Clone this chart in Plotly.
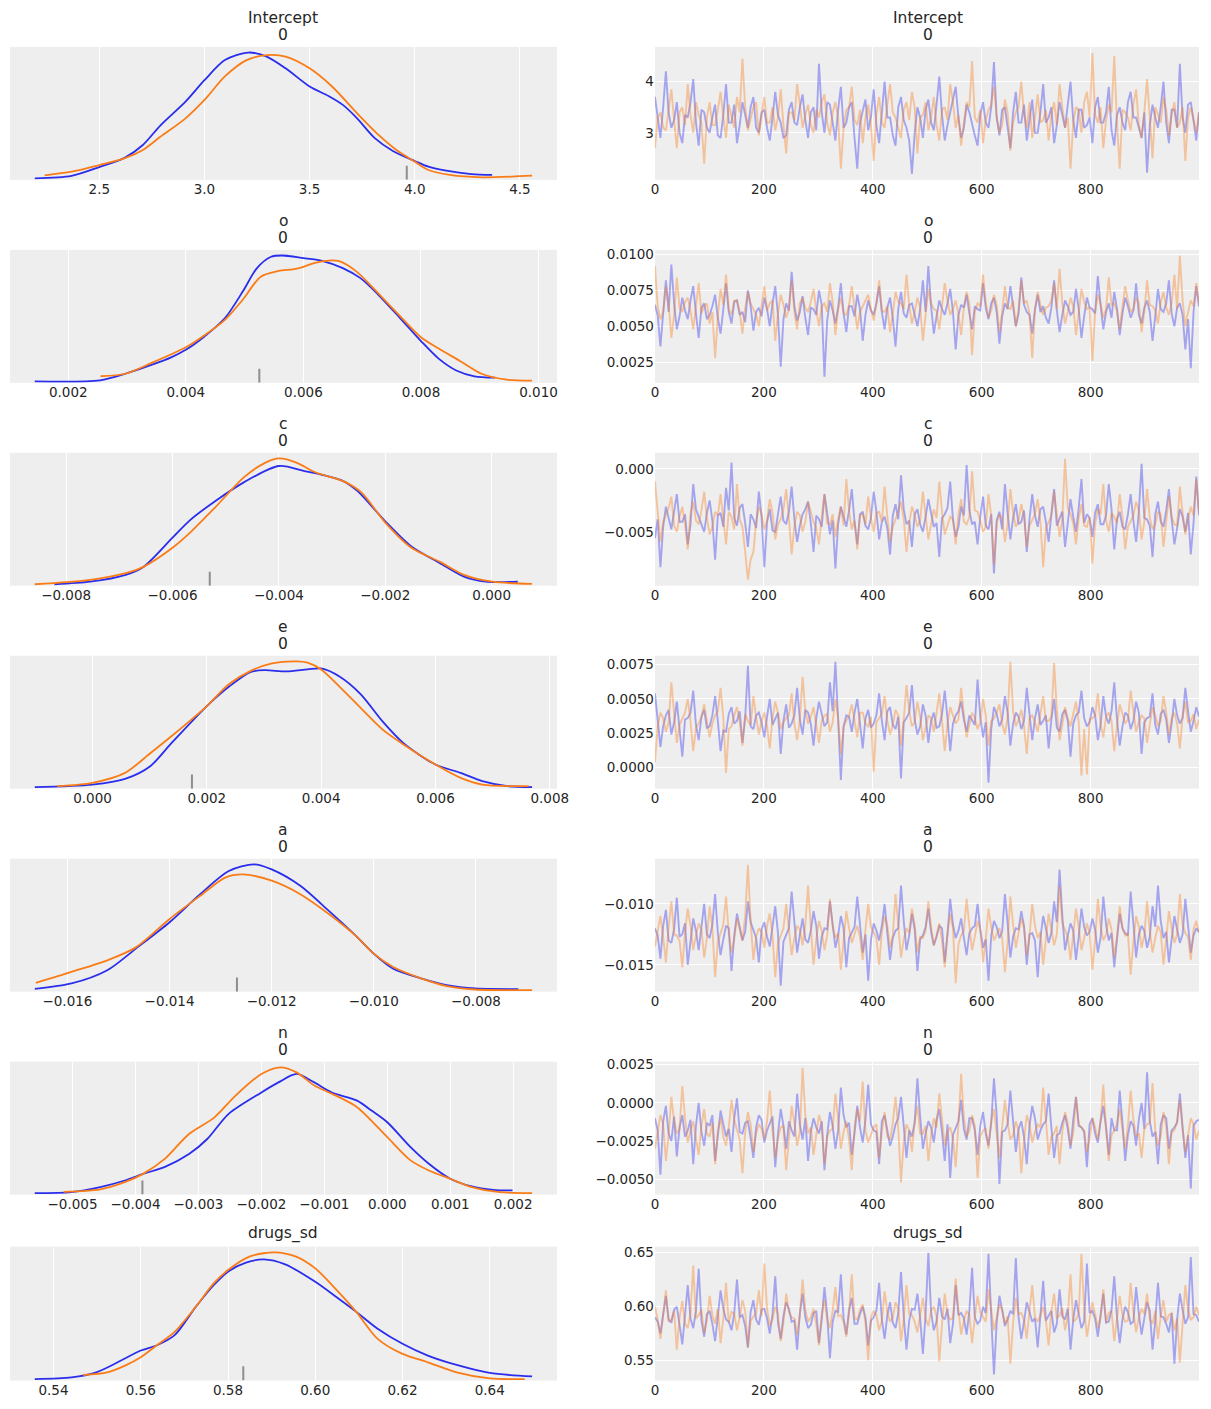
import numpy as np
import plotly.graph_objects as go

W, H = 1211, 1409
BLUE = "#2a2eec"
ORANGE = "#fa7c17"
TEXT = "#262626"
FONT = "DejaVu Sans"

PARAMS = ["Intercept", "o", "c", "e", "a", "n", "drugs_sd"]
SUBTITLES = ["0", "0", "0", "0", "0", "0", ""]

# ---------------- KDE curves (x values, relative density) ----------------
KDE_INTERCEPT_B_X = [2.193, 2.368, 2.5, 2.622, 2.707, 2.79, 2.91, 3.0, 3.097, 3.208, 3.293, 3.386, 3.5, 3.59, 3.658, 3.726, 3.81, 3.896, 4.0, 4.065, 4.15, 4.27, 4.368]
KDE_INTERCEPT_B_Y = [0.0, 0.02, 0.09, 0.165, 0.265, 0.42, 0.61, 0.78, 0.94, 1.0, 0.97, 0.875, 0.73, 0.655, 0.584, 0.477, 0.32, 0.218, 0.138, 0.093, 0.061, 0.034, 0.027]
KDE_INTERCEPT_O_X = [2.24, 2.368, 2.5, 2.622, 2.707, 2.79, 2.91, 3.0, 3.097, 3.2, 3.3, 3.386, 3.5, 3.607, 3.726, 3.828, 3.913, 4.0, 4.065, 4.167, 4.32, 4.558]
KDE_INTERCEPT_O_Y = [0.024, 0.053, 0.106, 0.16, 0.225, 0.33, 0.477, 0.623, 0.81, 0.94, 0.98, 0.968, 0.875, 0.73, 0.517, 0.345, 0.225, 0.133, 0.066, 0.027, 0.008, 0.021]

KDE_O_B_X = [0.00143, 0.00254, 0.00297, 0.00339, 0.00375, 0.004, 0.0043, 0.00467, 0.00497, 0.00521, 0.00545, 0.00564, 0.006, 0.0063, 0.00667, 0.00697, 0.00727, 0.00764, 0.008, 0.0083, 0.0086, 0.00891, 0.00926]
KDE_O_B_Y = [0.0, 0.008, 0.06, 0.126, 0.19, 0.25, 0.35, 0.505, 0.715, 0.9, 0.99, 1.0, 0.98, 0.96, 0.9, 0.82, 0.69, 0.505, 0.32, 0.18, 0.086, 0.04, 0.029]
KDE_O_O_X = [0.00255, 0.00297, 0.00339, 0.004, 0.0043, 0.00467, 0.00497, 0.00527, 0.00558, 0.00582, 0.006, 0.00618, 0.00643, 0.00661, 0.00691, 0.00727, 0.00764, 0.008, 0.0083, 0.00867, 0.00903, 0.00946, 0.00989]
KDE_O_O_Y = [0.04, 0.06, 0.14, 0.27, 0.36, 0.49, 0.65, 0.83, 0.877, 0.89, 0.91, 0.94, 0.96, 0.955, 0.87, 0.70, 0.52, 0.35, 0.26, 0.16, 0.06, 0.013, 0.005]

KDE_C_B_X = [-0.00822, -0.00755, -0.00688, -0.00654, -0.006, -0.00567, -0.0052, -0.00466, -0.004, -0.00352, -0.00319, -0.00279, -0.00252, -0.002, -0.00151, -0.00098, -0.00052, -0.00011, 0.00049]
KDE_C_B_Y = [0.0, 0.02, 0.075, 0.14, 0.37, 0.51, 0.66, 0.81, 0.94, 0.90, 0.87, 0.82, 0.74, 0.5, 0.3, 0.17, 0.06, 0.02, 0.02]
KDE_C_O_X = [-0.00859, -0.00755, -0.00688, -0.00654, -0.006, -0.00567, -0.0052, -0.00466, -0.00426, -0.004, -0.00366, -0.00332, -0.00279, -0.00245, -0.002, -0.00151, -0.00098, -0.00052, 0.00002, 0.00076]
KDE_C_O_Y = [0.0, 0.035, 0.088, 0.14, 0.29, 0.41, 0.61, 0.85, 0.965, 1.0, 0.965, 0.89, 0.82, 0.73, 0.49, 0.29, 0.18, 0.075, 0.02, 0.003]

KDE_E_B_X = [-0.00101, 0.0, 0.00057, 0.00101, 0.00138, 0.002, 0.00239, 0.00276, 0.00301, 0.00339, 0.00376, 0.004, 0.00432, 0.00469, 0.00507, 0.00544, 0.006, 0.00644, 0.00682, 0.00726, 0.00769]
KDE_E_B_Y = [0.0, 0.02, 0.066, 0.167, 0.35, 0.645, 0.80, 0.915, 0.93, 0.92, 0.936, 0.944, 0.88, 0.74, 0.525, 0.35, 0.18, 0.114, 0.048, 0.008, 0.0]
KDE_E_O_X = [-0.00062, 0.0, 0.00057, 0.00101, 0.00138, 0.002, 0.00239, 0.00276, 0.00314, 0.00357, 0.00376, 0.004, 0.00432, 0.00469, 0.00507, 0.00544, 0.006, 0.00644, 0.00682, 0.00763]
KDE_E_O_Y = [0.008, 0.035, 0.114, 0.27, 0.405, 0.645, 0.82, 0.923, 0.984, 1.0, 0.99, 0.936, 0.80, 0.63, 0.46, 0.34, 0.18, 0.074, 0.021, 0.008]

KDE_A_B_X = [-0.01664, -0.01592, -0.01522, -0.01466, -0.014, -0.0134, -0.01284, -0.01235, -0.012, -0.01144, -0.01088, -0.01032, -0.01, -0.00962, -0.00906, -0.00857, -0.00801, -0.00717]
KDE_A_B_Y = [0.01, 0.053, 0.158, 0.33, 0.54, 0.763, 0.947, 1.0, 0.96, 0.83, 0.63, 0.42, 0.29, 0.17, 0.092, 0.04, 0.013, 0.008]
KDE_A_O_X = [-0.01662, -0.01592, -0.01522, -0.01466, -0.014, -0.0134, -0.01291, -0.01256, -0.012, -0.01144, -0.01088, -0.01032, -0.01, -0.00962, -0.00906, -0.00857, -0.00801, -0.0069]
KDE_A_O_Y = [0.058, 0.145, 0.237, 0.34, 0.566, 0.75, 0.895, 0.92, 0.87, 0.763, 0.605, 0.42, 0.29, 0.184, 0.092, 0.032, 0.005, 0.0]

KDE_N_B_X = [-0.0056, -0.00502, -0.00456, -0.00417, -0.00388, -0.00354, -0.00315, -0.00286, -0.00252, -0.002, -0.00173, -0.00144, -0.00116, -0.00088, -0.00048, -0.00025, 0.0, 0.00037, 0.00066, 0.001, 0.00134, 0.00168, 0.00199]
KDE_N_B_Y = [0.0, 0.008, 0.048, 0.1, 0.153, 0.206, 0.31, 0.43, 0.63, 0.80, 0.88, 0.947, 0.88, 0.80, 0.735, 0.656, 0.563, 0.365, 0.233, 0.114, 0.053, 0.026, 0.021]
KDE_N_O_X = [-0.00514, -0.00456, -0.00417, -0.00388, -0.00354, -0.00315, -0.00275, -0.00241, -0.002, -0.0017, -0.00144, -0.00116, -0.00088, -0.00048, 0.0, 0.00037, 0.00066, 0.001, 0.00134, 0.00179, 0.0023]
KDE_N_O_Y = [0.01, 0.03, 0.087, 0.153, 0.27, 0.47, 0.60, 0.775, 0.947, 1.0, 0.96, 0.855, 0.79, 0.683, 0.444, 0.26, 0.18, 0.114, 0.048, 0.008, 0.0]

KDE_DRUGS_B_X = [0.5357, 0.5441, 0.5498, 0.5547, 0.56, 0.5636, 0.5677, 0.5726, 0.5767, 0.58, 0.5841, 0.5882, 0.5931, 0.60, 0.6053, 0.6094, 0.6143, 0.62, 0.6258, 0.6324, 0.64, 0.6497]
KDE_DRUGS_B_Y = [0.0, 0.013, 0.053, 0.132, 0.225, 0.265, 0.344, 0.569, 0.74, 0.847, 0.918, 0.944, 0.905, 0.767, 0.635, 0.53, 0.397, 0.278, 0.185, 0.111, 0.048, 0.021]
KDE_DRUGS_O_X = [0.5468, 0.5523, 0.5564, 0.56, 0.5636, 0.5677, 0.5726, 0.5767, 0.58, 0.5849, 0.5907, 0.5956, 0.60, 0.6053, 0.6094, 0.6143, 0.62, 0.6258, 0.6324, 0.64, 0.648]
KDE_DRUGS_O_Y = [0.032, 0.053, 0.106, 0.172, 0.265, 0.37, 0.569, 0.754, 0.86, 0.966, 1.0, 0.966, 0.873, 0.688, 0.53, 0.317, 0.198, 0.132, 0.053, 0.005, 0.0]

# divergence marks shown under each KDE
DIVERGENCES = [3.962, 0.00525, -0.0053, 0.00174, -0.01268, -0.00389, 0.5835]

# ---------------- Trace values (sampled along the 1000 draws) ----------------
TRACE_INTERCEPT_B = [
    3.7, 3.3, 2.9, 3.5, 4.2, 3.4, 3.1, 3.25, 3.6, 3.0, 2.8, 3.35, 3.3, 3.6, 4.05, 3.2, 2.75, 3.45, 3.4, 3.1,
    3.0, 3.3, 3.55, 2.95, 2.9, 3.35, 3.95, 3.2, 3.2, 3.55, 2.8, 3.15, 3.6, 3.35, 3.1, 3.5, 3.7, 3.1, 3.0, 3.4,
    3.45, 3.1, 2.85, 3.3, 3.8, 3.35, 3.2, 2.9, 2.95, 3.45, 3.6, 3.2, 3.15, 3.5, 3.75, 3.25, 2.9, 3.4, 3.5, 3.05,
    4.35, 3.4, 3.0, 3.6, 3.55, 3.2, 2.85, 3.45, 3.9, 3.1, 3.2, 3.5, 3.6, 2.9, 2.3, 3.2, 3.4, 3.65, 3.05, 3.3,
    3.85, 3.15, 2.8, 3.4, 4.0, 3.3, 3.3, 2.95, 2.75, 3.5, 3.7, 3.25, 3.1, 2.85, 2.2, 3.0, 3.5, 3.3, 2.9, 3.45,
    3.65, 3.2, 3.05, 3.55, 4.1, 3.35, 2.85, 3.15, 3.4, 3.6, 3.9, 3.3, 2.9, 3.1, 3.55, 3.4, 3.15, 2.95, 2.75, 3.35,
    3.6, 3.2, 3.1, 3.5, 4.38, 3.3, 2.95, 3.45, 3.5, 3.05, 2.7, 3.4, 3.8, 3.2, 3.2, 3.55, 2.85, 3.25, 3.65, 3.0,
    3.0, 3.4, 3.95, 3.2, 3.3, 3.5, 2.8, 3.15, 3.6, 3.35, 3.1, 3.55, 4.0, 3.25, 2.9, 3.45, 3.45, 3.1, 3.15, 3.3,
    2.8, 3.5, 3.7, 3.2, 3.2, 3.4, 3.9, 3.05, 2.75, 3.35, 3.5, 3.2, 3.05, 3.6, 3.8, 3.3, 3.3, 3.1, 2.9, 3.4,
    2.22, 3.15, 3.55, 3.3, 3.1, 3.5, 4.0, 3.2, 2.8, 3.45, 3.45, 3.1, 4.35, 3.3, 3.0, 3.55, 3.6, 3.25, 2.85, 3.4]
TRACE_INTERCEPT_O = [
    2.7, 3.3, 3.4, 3.1, 3.05, 3.5, 3.85, 3.25, 2.7, 3.4, 3.5, 3.15, 3.95, 3.35, 3.0, 3.6, 3.35, 3.2, 2.4, 3.3,
    3.6, 3.15, 3.15, 3.45, 3.8, 3.3, 2.9, 3.55, 3.3, 3.1, 3.7, 3.4, 4.45, 3.5, 3.05, 3.25, 3.5, 3.6, 2.95, 3.35,
    3.7, 3.2, 3.2, 3.5, 3.05, 3.3, 3.85, 3.15, 2.6, 3.4, 3.4, 3.25, 3.95, 3.55, 3.1, 3.35, 3.55, 3.15, 3.0, 3.45,
    3.3, 3.6, 3.75, 3.2, 2.95, 3.4, 3.6, 3.3, 2.3, 3.1, 3.45, 3.5, 3.9, 3.25, 3.15, 3.45, 2.8, 3.3, 3.55, 3.15,
    2.45, 3.35, 3.7, 3.2, 3.1, 3.55, 3.95, 3.4, 3.3, 3.1, 2.9, 3.45, 3.6, 3.25, 3.8, 3.5, 2.6, 3.3, 3.35, 3.6,
    3.05, 3.3, 3.7, 3.15, 2.85, 3.45, 3.5, 3.25, 3.95, 3.6, 3.1, 3.35, 2.75, 3.2, 3.6, 3.5, 4.4, 3.3, 3.2, 3.45,
    2.8, 3.25, 3.45, 3.55, 3.9, 3.3, 3.0, 3.15, 3.65, 3.4, 2.65, 3.2, 3.4, 3.5, 4.0, 3.35, 3.1, 3.6, 2.9, 3.3,
    3.75, 3.2, 3.25, 3.45, 2.85, 3.35, 3.6, 3.15, 3.95, 3.5, 3.1, 3.3, 2.3, 3.2, 3.5, 3.45, 3.0, 3.6, 3.8, 3.3,
    4.56, 3.35, 3.2, 3.5, 2.7, 3.25, 3.55, 3.4, 4.5, 3.2, 2.3, 3.45, 3.4, 3.3, 3.05, 3.55, 3.85, 3.15, 2.9, 3.4,
    4.05, 3.3, 2.5, 3.5, 3.35, 3.2, 3.7, 3.45, 2.95, 3.35, 3.6, 3.1, 3.2, 3.5, 2.45, 3.3, 3.5, 3.25, 3.0, 3.4]

TRACE_O_B = [
    0.0065, 0.0058, 0.0036, 0.0062, 0.0082, 0.0060, 0.0093, 0.0066, 0.0048, 0.0057, 0.0070, 0.0061, 0.0055, 0.0068, 0.0078, 0.0059, 0.0042, 0.0063, 0.0066, 0.0055,
    0.0058, 0.0064, 0.0072, 0.0056, 0.0045, 0.0062, 0.0080, 0.0060, 0.0052, 0.0067, 0.0068, 0.0058, 0.0060, 0.0053, 0.0075, 0.0064, 0.0047, 0.0060, 0.0063, 0.0057,
    0.0070, 0.0062, 0.0050, 0.0066, 0.0078, 0.0058, 0.0022, 0.0055, 0.0066, 0.0061, 0.0088, 0.0064, 0.0054, 0.0060, 0.0071, 0.0056, 0.0044, 0.0063, 0.0062, 0.0058,
    0.0075, 0.0065, 0.0015, 0.0054, 0.0068, 0.0061, 0.0052, 0.0063, 0.0080, 0.0059, 0.0046, 0.0064, 0.0064, 0.0057, 0.0072, 0.0062, 0.0040, 0.0058, 0.0068, 0.0061,
    0.0058, 0.0066, 0.0078, 0.0060, 0.0048, 0.0063, 0.0070, 0.0056, 0.0036, 0.0062, 0.0074, 0.0059, 0.0056, 0.0065, 0.0066, 0.0058, 0.0050, 0.0062, 0.0082, 0.0060,
    0.0092, 0.0064, 0.0045, 0.0057, 0.0068, 0.0062, 0.0058, 0.0066, 0.0076, 0.0060, 0.0034, 0.0058, 0.0065, 0.0063, 0.0072, 0.0059, 0.0048, 0.0064, 0.0062, 0.0061,
    0.0080, 0.0063, 0.0055, 0.0066, 0.0070, 0.0060, 0.0038, 0.0057, 0.0066, 0.0062, 0.0078, 0.0064, 0.0050, 0.0059, 0.0084, 0.0065, 0.0060, 0.0058, 0.0045, 0.0062,
    0.0072, 0.0060, 0.0064, 0.0056, 0.0052, 0.0063, 0.0082, 0.0061, 0.0046, 0.0058, 0.0068, 0.0064, 0.0058, 0.0060, 0.0076, 0.0062, 0.0042, 0.0057, 0.0070, 0.0063,
    0.0062, 0.0059, 0.0085, 0.0065, 0.0048, 0.0060, 0.0066, 0.0056, 0.0074, 0.0062, 0.0044, 0.0059, 0.0070, 0.0064, 0.0056, 0.0061, 0.0080, 0.0058, 0.0052, 0.0063,
    0.0068, 0.0060, 0.0040, 0.0057, 0.0076, 0.0062, 0.0060, 0.0066, 0.0082, 0.0059, 0.0050, 0.0063, 0.0066, 0.0058, 0.0034, 0.0055, 0.0021, 0.0060, 0.0078, 0.0064]
TRACE_O_O = [
    0.0092, 0.0064, 0.0055, 0.0060, 0.0078, 0.0066, 0.0042, 0.0058, 0.0084, 0.0063, 0.0060, 0.0067, 0.0070, 0.0061, 0.0048, 0.0064, 0.0080, 0.0059, 0.0064, 0.0066,
    0.0052, 0.0060, 0.0028, 0.0057, 0.0076, 0.0065, 0.0086, 0.0062, 0.0058, 0.0068, 0.0068, 0.0060, 0.0045, 0.0063, 0.0074, 0.0066, 0.0062, 0.0058, 0.0050, 0.0064,
    0.0078, 0.0061, 0.0066, 0.0068, 0.0040, 0.0059, 0.0072, 0.0065, 0.0056, 0.0062, 0.0082, 0.0060, 0.0048, 0.0066, 0.0070, 0.0063, 0.0060, 0.0067, 0.0076, 0.0061,
    0.0050, 0.0064, 0.0066, 0.0060, 0.0080, 0.0067, 0.0044, 0.0062, 0.0070, 0.0059, 0.0058, 0.0065, 0.0078, 0.0063, 0.0048, 0.0060, 0.0064, 0.0068, 0.0072, 0.0062,
    0.0054, 0.0066, 0.0082, 0.0061, 0.0060, 0.0064, 0.0046, 0.0059, 0.0074, 0.0067, 0.0066, 0.0062, 0.0086, 0.0065, 0.0052, 0.0060, 0.0070, 0.0063, 0.0040, 0.0058,
    0.0076, 0.0066, 0.0062, 0.0061, 0.0048, 0.0064, 0.0080, 0.0068, 0.0058, 0.0062, 0.0068, 0.0059, 0.0044, 0.0063, 0.0074, 0.0066, 0.0030, 0.0060, 0.0066, 0.0064,
    0.0086, 0.0067, 0.0056, 0.0061, 0.0072, 0.0065, 0.0046, 0.0060, 0.0078, 0.0063, 0.0062, 0.0068, 0.0050, 0.0062, 0.0082, 0.0066, 0.0068, 0.0059, 0.0028, 0.0061,
    0.0074, 0.0065, 0.0058, 0.0063, 0.0064, 0.0068, 0.0080, 0.0062, 0.0090, 0.0066, 0.0052, 0.0060, 0.0070, 0.0064, 0.0044, 0.0059, 0.0076, 0.0067, 0.0062, 0.0063,
    0.0026, 0.0060, 0.0072, 0.0066, 0.0056, 0.0062, 0.0084, 0.0065, 0.0066, 0.0061, 0.0048, 0.0064, 0.0078, 0.0068, 0.0060, 0.0062, 0.0070, 0.0066, 0.0046, 0.0060,
    0.0082, 0.0065, 0.0064, 0.0061, 0.0052, 0.0067, 0.0074, 0.0063, 0.0058, 0.0066, 0.0086, 0.0062, 0.0099, 0.0068, 0.0050, 0.0060, 0.0068, 0.0064, 0.0080, 0.0066]

TRACE_C_B = [
    -0.0055, -0.0040, -0.0078, -0.0046, -0.0030, -0.0038, -0.0048, -0.0034, -0.0020, -0.0042, -0.0042, -0.0036, -0.0060, -0.0044, -0.0012, -0.0032, -0.0038, -0.0045, -0.0050, -0.0035,
    -0.0025, -0.0041, -0.0072, -0.0037, -0.0035, -0.0046, -0.0015, -0.0033, 0.0005, -0.0039, -0.0045, -0.0031, -0.0028, -0.0043, -0.0062, -0.0036, -0.0040, -0.0047, -0.0018, -0.0038,
    -0.0078, -0.0042, -0.0032, -0.0049, -0.0050, -0.0036, -0.0022, -0.0041, -0.0044, -0.0034, -0.0014, -0.0040, -0.0058, -0.0045, -0.0036, -0.0032, -0.0026, -0.0043, -0.0066, -0.0037,
    -0.0040, -0.0046, -0.0020, -0.0035, -0.0052, -0.0041, -0.0079, -0.0044, -0.0030, -0.0038, -0.0046, -0.0033, -0.0016, -0.0042, -0.0060, -0.0036, -0.0034, -0.0045, -0.0048, -0.0039,
    -0.0018, -0.0034, -0.0056, -0.0042, -0.0038, -0.0047, -0.0068, -0.0037, -0.0028, -0.0040, -0.0005, -0.0032, -0.0044, -0.0041, -0.0062, -0.0036, -0.0032, -0.0044, -0.0050, -0.0038,
    -0.0024, -0.0035, -0.0046, -0.0043, -0.0070, -0.0039, -0.0036, -0.0031, -0.0010, -0.0040, -0.0054, -0.0046, -0.0030, -0.0037, 0.0003, -0.0033, -0.0044, -0.0042, -0.0060, -0.0038,
    -0.0022, -0.0045, -0.0048, -0.0036, -0.0083, -0.0041, -0.0034, -0.0048, -0.0012, -0.0035, -0.0056, -0.0039, -0.0028, -0.0044, -0.0042, -0.0033, -0.0066, -0.0040, -0.0020, -0.0037,
    -0.0046, -0.0032, -0.0030, -0.0042, -0.0058, -0.0036, -0.0016, -0.0045, -0.0040, -0.0034, -0.0062, -0.0041, -0.0024, -0.0038, -0.0050, -0.0031, -0.0008, -0.0043, -0.0036, -0.0039,
    -0.0054, -0.0035, -0.0028, -0.0044, -0.0044, -0.0037, -0.0012, -0.0032, -0.0064, -0.0040, -0.0034, -0.0046, -0.0048, -0.0036, -0.0020, -0.0041, -0.0058, -0.0034, 0.0004, -0.0039,
    -0.0040, -0.0045, -0.0070, -0.0036, -0.0026, -0.0042, -0.0046, -0.0033, -0.0016, -0.0040, -0.0060, -0.0047, -0.0032, -0.0038, -0.0050, -0.0035, -0.0068, -0.0043, -0.0006, -0.0037]
TRACE_C_O = [
    -0.0010, -0.0036, -0.0058, -0.0042, -0.0036, -0.0031, -0.0022, -0.0045, -0.0050, -0.0038, -0.0030, -0.0044, -0.0064, -0.0035, -0.0026, -0.0041, -0.0044, -0.0033, -0.0018, -0.0039,
    -0.0052, -0.0046, -0.0034, -0.0037, -0.0020, -0.0043, -0.0060, -0.0034, -0.0038, -0.0048, -0.0012, -0.0040, -0.0046, -0.0066, -0.0088, -0.0072, -0.0066, -0.0042, -0.0030, -0.0036,
    -0.0048, -0.0041, -0.0024, -0.0035, -0.0056, -0.0044, -0.0040, -0.0032, -0.0016, -0.0039, -0.0068, -0.0045, -0.0034, -0.0037, -0.0050, -0.0042, -0.0026, -0.0034, -0.0042, -0.0047,
    -0.0060, -0.0038, -0.0020, -0.0043, -0.0044, -0.0036, -0.0054, -0.0040, -0.0030, -0.0045, -0.0008, -0.0033, -0.0048, -0.0041, -0.0064, -0.0037, -0.0036, -0.0044, -0.0022, -0.0039,
    -0.0050, -0.0035, -0.0034, -0.0042, -0.0014, -0.0038, -0.0058, -0.0046, -0.0040, -0.0034, -0.0026, -0.0040, -0.0066, -0.0043, -0.0030, -0.0036, -0.0046, -0.0041, -0.0018, -0.0037,
    -0.0056, -0.0044, -0.0032, -0.0039, -0.0010, -0.0034, -0.0052, -0.0045, -0.0038, -0.0040, -0.0060, -0.0036, -0.0024, -0.0042, -0.0044, -0.0038, -0.0002, -0.0033, -0.0034, -0.0041,
    -0.0050, -0.0046, -0.0020, -0.0037, -0.0076, -0.0043, -0.0036, -0.0039, -0.0058, -0.0044, -0.0016, -0.0035, -0.0046, -0.0041, -0.0028, -0.0038, -0.0062, -0.0045, -0.0040, -0.0036,
    -0.0024, -0.0042, -0.0078, -0.0047, -0.0042, -0.0037, -0.0018, -0.0034, -0.0054, -0.0040, 0.0008, -0.0031, -0.0036, -0.0043, -0.0060, -0.0039, -0.0028, -0.0045, -0.0046, -0.0038,
    -0.0075, -0.0044, -0.0032, -0.0036, -0.0012, -0.0041, -0.0050, -0.0035, -0.0038, -0.0043, -0.0020, -0.0038, -0.0064, -0.0046, -0.0042, -0.0037, -0.0026, -0.0033, -0.0056, -0.0042,
    -0.0016, -0.0039, -0.0048, -0.0044, -0.0034, -0.0036, -0.0062, -0.0041, -0.0022, -0.0038, -0.0044, -0.0045, -0.0014, -0.0035, -0.0052, -0.0040, -0.0030, -0.0037, -0.0008, -0.0034]

TRACE_E_B = [
    0.0054, 0.0036, 0.0015, 0.0030, 0.0038, 0.0042, 0.0024, 0.0033, 0.0048, 0.0028, 0.0008, 0.0035, 0.0036, 0.0040, 0.0056, 0.0031, 0.0020, 0.0037, 0.0042, 0.0029,
    0.0030, 0.0038, 0.0052, 0.0034, 0.0012, 0.0027, 0.0026, 0.0039, 0.0044, 0.0032, 0.0034, 0.0041, 0.0018, 0.0036, 0.0074, 0.0030, 0.0028, 0.0038, 0.0040, 0.0033,
    0.0022, 0.0037, 0.0050, 0.0031, 0.0036, 0.0040, 0.0010, 0.0034, 0.0046, 0.0029, 0.0032, 0.0038, 0.0058, 0.0035, 0.0024, 0.0042, 0.0040, 0.0032, 0.0016, 0.0036,
    0.0048, 0.0039, 0.0030, 0.0033, 0.0062, 0.0041, 0.0077, 0.0035, -0.0009, 0.0030, 0.0038, 0.0037, 0.0026, 0.0040, 0.0050, 0.0032, 0.0014, 0.0036, 0.0042, 0.0029,
    0.0032, 0.0038, 0.0054, 0.0034, 0.0020, 0.0041, 0.0044, 0.0031, 0.0028, 0.0037, -0.0008, 0.0033, 0.0036, 0.0040, 0.0060, 0.0035, 0.0024, 0.0030, 0.0046, 0.0038,
    0.0018, 0.0034, 0.0040, 0.0029, 0.0030, 0.0039, 0.0056, 0.0036, 0.0012, 0.0032, 0.0038, 0.0041, 0.0048, 0.0035, 0.0026, 0.0038, 0.0034, 0.0031, 0.0064, 0.0037,
    0.0022, 0.0033, -0.0011, 0.0028, 0.0044, 0.0039, 0.0030, 0.0035, 0.0052, 0.0040, 0.0016, 0.0032, 0.0040, 0.0037, 0.0028, 0.0034, 0.0058, 0.0041, 0.0020, 0.0036,
    0.0046, 0.0031, 0.0034, 0.0038, 0.0014, 0.0035, 0.0050, 0.0029, 0.0026, 0.0039, 0.0042, 0.0034, 0.0008, 0.0032, 0.0038, 0.0040, 0.0056, 0.0036, 0.0030, 0.0033,
    0.0044, 0.0038, 0.0020, 0.0031, 0.0052, 0.0037, 0.0032, 0.0041, 0.0062, 0.0035, 0.0016, 0.0030, 0.0040, 0.0038, 0.0028, 0.0034, 0.0048, 0.0040, 0.0010, 0.0033,
    0.0036, 0.0037, 0.0054, 0.0031, 0.0024, 0.0039, 0.0042, 0.0035, 0.0018, 0.0032, 0.0050, 0.0038, 0.0032, 0.0036, 0.0058, 0.0041, 0.0026, 0.0034, 0.0044, 0.0037]
TRACE_E_O = [
    0.0004, 0.0030, 0.0040, 0.0036, 0.0026, 0.0033, 0.0062, 0.0039, 0.0018, 0.0031, 0.0036, 0.0040, 0.0050, 0.0034, 0.0012, 0.0029, 0.0032, 0.0037, 0.0046, 0.0035,
    0.0022, 0.0032, 0.0038, 0.0041, 0.0058, 0.0036, -0.0004, 0.0028, 0.0030, 0.0038, 0.0044, 0.0033, 0.0016, 0.0039, 0.0034, 0.0031, 0.0052, 0.0037, 0.0024, 0.0034,
    0.0040, 0.0030, 0.0014, 0.0036, 0.0048, 0.0040, 0.0028, 0.0033, 0.0036, 0.0038, 0.0054, 0.0032, 0.0020, 0.0035, 0.0066, 0.0041, 0.0032, 0.0037, 0.0044, 0.0031,
    0.0018, 0.0034, 0.0038, 0.0039, 0.0026, 0.0033, 0.0050, 0.0036, 0.0010, 0.0030, 0.0034, 0.0038, 0.0046, 0.0035, 0.0022, 0.0040, 0.0040, 0.0032, 0.0030, 0.0037,
    -0.0003, 0.0033, 0.0036, 0.0039, 0.0052, 0.0034, 0.0024, 0.0031, 0.0042, 0.0038, 0.0016, 0.0035, 0.0060, 0.0041, 0.0030, 0.0033, 0.0048, 0.0037, 0.0020, 0.0030,
    0.0038, 0.0036, 0.0026, 0.0040, 0.0054, 0.0034, 0.0012, 0.0032, 0.0044, 0.0038, 0.0032, 0.0035, 0.0058, 0.0039, 0.0022, 0.0031, 0.0040, 0.0036, 0.0028, 0.0033,
    0.0050, 0.0038, 0.0016, 0.0034, 0.0036, 0.0040, 0.0046, 0.0032, 0.0024, 0.0037, 0.0077, 0.0041, 0.0030, 0.0035, 0.0042, 0.0030, 0.0010, 0.0036, 0.0038, 0.0033,
    0.0026, 0.0039, 0.0052, 0.0034, 0.0034, 0.0037, 0.0076, 0.0042, 0.0020, 0.0031, 0.0044, 0.0036, 0.0030, 0.0039, 0.0048, 0.0033, -0.0006, 0.0028, -0.0005, 0.0035,
    0.0036, 0.0038, 0.0054, 0.0032, 0.0022, 0.0037, 0.0040, 0.0034, 0.0012, 0.0030, 0.0046, 0.0039, 0.0032, 0.0035, 0.0056, 0.0041, 0.0026, 0.0033, 0.0038, 0.0036,
    0.0018, 0.0031, 0.0044, 0.0038, 0.0030, 0.0034, 0.0052, 0.0040, 0.0024, 0.0036, 0.0040, 0.0032, 0.0014, 0.0037, 0.0048, 0.0033, 0.0034, 0.0039, 0.0028, 0.0035]

TRACE_A_B = [
    -0.0120, -0.0126, -0.0145, -0.0118, -0.0105, -0.0130, -0.0132, -0.0121, -0.0095, -0.0127, -0.0125, -0.0116, -0.0150, -0.0128, -0.0112, -0.0122, -0.0138, -0.0119, -0.0100, -0.0125,
    -0.0128, -0.0117, -0.0092, -0.0124, -0.0142, -0.0129, -0.0118, -0.0120, -0.0155, -0.0126, -0.0108, -0.0119, -0.0130, -0.0123, -0.0098, -0.0115, -0.0122, -0.0128, -0.0148, -0.0121,
    -0.0115, -0.0127, -0.0135, -0.0118, -0.0102, -0.0124, -0.0167, -0.0131, -0.0126, -0.0120, -0.0090, -0.0116, -0.0140, -0.0125, -0.0112, -0.0129, -0.0132, -0.0122, -0.0106, -0.0118,
    -0.0145, -0.0127, -0.0120, -0.0121, -0.0098, -0.0117, -0.0136, -0.0126, -0.0110, -0.0120, -0.0152, -0.0128, -0.0124, -0.0119, -0.0094, -0.0115, -0.0140, -0.0125, -0.0163, -0.0130,
    -0.0116, -0.0122, -0.0130, -0.0118, -0.0100, -0.0124, -0.0146, -0.0128, -0.0122, -0.0120, -0.0085, -0.0114, -0.0138, -0.0126, -0.0108, -0.0121, -0.0155, -0.0129, -0.0126, -0.0119,
    -0.0104, -0.0123, -0.0134, -0.0127, -0.0118, -0.0120, -0.0148, -0.0125, -0.0096, -0.0117, -0.0128, -0.0122, -0.0112, -0.0128, -0.0142, -0.0124, -0.0120, -0.0118, -0.0100, -0.0121,
    -0.0136, -0.0129, -0.0163, -0.0126, -0.0114, -0.0119, -0.0128, -0.0123, -0.0092, -0.0116, -0.0144, -0.0127, -0.0120, -0.0121, -0.0106, -0.0118, -0.0150, -0.0125, -0.0124, -0.0130,
    -0.0160, -0.0128, -0.0110, -0.0120, -0.0132, -0.0124, -0.0098, -0.0115, -0.0072, -0.0110, -0.0138, -0.0126, -0.0116, -0.0122, -0.0146, -0.0127, -0.0104, -0.0119, -0.0126, -0.0123,
    -0.0112, -0.0121, -0.0140, -0.0128, -0.0094, -0.0117, -0.0130, -0.0124, -0.0152, -0.0129, -0.0108, -0.0120, -0.0124, -0.0126, -0.0090, -0.0116, -0.0144, -0.0125, -0.0118, -0.0122,
    -0.0136, -0.0127, -0.0102, -0.0119, -0.0085, -0.0114, -0.0128, -0.0123, -0.0148, -0.0129, -0.0110, -0.0121, -0.0132, -0.0125, -0.0096, -0.0118, -0.0140, -0.0126, -0.0120, -0.0123]
TRACE_A_O = [
    -0.0135, -0.0122, -0.0110, -0.0127, -0.0148, -0.0119, -0.0098, -0.0125, -0.0126, -0.0130, -0.0152, -0.0123, -0.0104, -0.0118, -0.0138, -0.0126, -0.0116, -0.0121, -0.0144, -0.0128,
    -0.0102, -0.0120, -0.0160, -0.0131, -0.0124, -0.0117, -0.0094, -0.0124, -0.0140, -0.0129, -0.0112, -0.0121, -0.0130, -0.0110, -0.0068, -0.0115, -0.0146, -0.0127, -0.0120, -0.0123,
    -0.0136, -0.0118, -0.0108, -0.0126, -0.0160, -0.0132, -0.0126, -0.0120, -0.0100, -0.0124, -0.0142, -0.0128, -0.0118, -0.0121, -0.0134, -0.0117, -0.0085, -0.0119, -0.0150, -0.0129,
    -0.0114, -0.0122, -0.0138, -0.0126, -0.0096, -0.0118, -0.0128, -0.0124, -0.0154, -0.0130, -0.0106, -0.0120, -0.0132, -0.0125, -0.0118, -0.0127, -0.0146, -0.0121, -0.0100, -0.0119,
    -0.0124, -0.0128, -0.0150, -0.0123, -0.0110, -0.0118, -0.0136, -0.0126, -0.0092, -0.0120, -0.0144, -0.0129, -0.0120, -0.0124, -0.0104, -0.0117, -0.0140, -0.0127, -0.0128, -0.0122,
    -0.0098, -0.0119, -0.0134, -0.0126, -0.0116, -0.0130, -0.0152, -0.0124, -0.0108, -0.0120, -0.0165, -0.0133, -0.0126, -0.0122, -0.0096, -0.0118, -0.0138, -0.0127, -0.0114, -0.0121,
    -0.0148, -0.0129, -0.0104, -0.0119, -0.0130, -0.0125, -0.0120, -0.0128, -0.0156, -0.0131, -0.0094, -0.0117, -0.0136, -0.0124, -0.0112, -0.0120, -0.0142, -0.0126, -0.0100, -0.0118,
    -0.0128, -0.0123, -0.0150, -0.0129, -0.0108, -0.0121, -0.0134, -0.0125, -0.0085, -0.0116, -0.0122, -0.0127, -0.0146, -0.0122, -0.0104, -0.0119, -0.0138, -0.0128, -0.0116, -0.0124,
    -0.0154, -0.0130, -0.0096, -0.0118, -0.0130, -0.0125, -0.0112, -0.0121, -0.0144, -0.0127, -0.0102, -0.0120, -0.0126, -0.0124, -0.0158, -0.0131, -0.0110, -0.0119, -0.0136, -0.0126,
    -0.0098, -0.0122, -0.0140, -0.0128, -0.0118, -0.0123, -0.0150, -0.0129, -0.0106, -0.0120, -0.0132, -0.0125, -0.0092, -0.0117, -0.0124, -0.0127, -0.0146, -0.0121, -0.0114, -0.0124]

TRACE_N_B = [
    -0.0010, -0.0018, -0.0047, -0.0012, -0.0002, -0.0020, -0.0025, -0.0009, -0.0035, -0.0016, -0.0008, -0.0022, -0.0018, -0.0011, -0.0040, -0.0015, 0.0000, -0.0019, -0.0028, -0.0013,
    -0.0015, -0.0008, -0.0038, -0.0021, -0.0005, -0.0014, -0.0022, -0.0017, -0.0032, -0.0010, 0.0003, -0.0019, -0.0020, -0.0013, -0.0012, -0.0023, -0.0036, -0.0016, -0.0008, -0.0011,
    -0.0026, -0.0018, -0.0014, -0.0009, -0.0042, -0.0020, -0.0004, -0.0015, -0.0030, -0.0012, -0.0018, -0.0022, 0.0006, -0.0014, -0.0024, -0.0010, -0.0038, -0.0019, -0.0010, -0.0016,
    -0.0020, -0.0012, -0.0044, -0.0021, -0.0006, -0.0015, -0.0030, -0.0018, 0.0010, -0.0008, -0.0016, -0.0013, -0.0034, -0.0020, -0.0002, -0.0016, -0.0026, -0.0011, 0.0012, -0.0014,
    -0.0018, -0.0019, -0.0040, -0.0012, -0.0008, -0.0017, -0.0028, -0.0022, -0.0014, -0.0010, 0.0004, -0.0015, -0.0036, -0.0018, -0.0022, -0.0013, 0.0016, -0.0009, -0.0030, -0.0020,
    -0.0012, -0.0016, -0.0026, -0.0011, -0.0004, -0.0019, -0.0038, -0.0014, -0.0049, -0.0021, -0.0016, -0.0012, 0.0002, -0.0017, -0.0024, -0.0010, -0.0010, -0.0018, -0.0034, -0.0015,
    -0.0006, -0.0020, -0.0028, -0.0013, 0.0016, -0.0008, -0.0053, -0.0019, -0.0018, -0.0014, 0.0008, -0.0011, -0.0032, -0.0017, -0.0012, -0.0022, -0.0040, -0.0015, -0.0002, -0.0010,
    -0.0024, -0.0018, -0.0014, -0.0012, 0.0006, -0.0016, -0.0036, -0.0021, -0.0020, -0.0013, -0.0008, -0.0017, -0.0030, -0.0011, 0.0004, -0.0015, -0.0016, -0.0019, -0.0042, -0.0014,
    -0.0010, -0.0020, -0.0026, -0.0012, -0.0002, -0.0016, -0.0034, -0.0010, -0.0018, -0.0018, 0.0008, -0.0013, -0.0038, -0.0021, -0.0012, -0.0015, -0.0028, -0.0011, 0.0000, -0.0017,
    0.0020, -0.0012, -0.0022, -0.0019, -0.0040, -0.0014, -0.0008, -0.0010, -0.0030, -0.0018, -0.0016, -0.0013, 0.0006, -0.0016, -0.0036, -0.0021, -0.0056, -0.0015, -0.0012, -0.0011]
TRACE_N_O = [
    -0.0030, -0.0019, -0.0008, -0.0014, -0.0038, -0.0021, 0.0004, -0.0012, -0.0020, -0.0017, 0.0011, -0.0010, -0.0026, -0.0018, -0.0012, -0.0023, -0.0034, -0.0015, -0.0004, -0.0020,
    -0.0022, -0.0013, -0.0040, -0.0018, -0.0010, -0.0022, -0.0028, -0.0016, 0.0002, -0.0011, -0.0018, -0.0024, -0.0046, -0.0019, -0.0006, -0.0014, -0.0032, -0.0020, -0.0014, -0.0017,
    -0.0024, -0.0012, 0.0008, -0.0018, -0.0036, -0.0023, -0.0016, -0.0015, -0.0044, -0.0020, -0.0002, -0.0013, -0.0028, -0.0019, 0.0023, -0.0008, -0.0020, -0.0016, -0.0034, -0.0021,
    -0.0008, -0.0014, -0.0040, -0.0022, -0.0018, -0.0017, 0.0006, -0.0011, -0.0030, -0.0019, -0.0012, -0.0024, -0.0044, -0.0016, -0.0004, -0.0012, 0.0014, -0.0018, -0.0026, -0.0021,
    -0.0016, -0.0014, -0.0036, -0.0019, -0.0006, -0.0022, -0.0024, -0.0013, 0.0004, -0.0017, -0.0052, -0.0025, -0.0014, -0.0018, -0.0032, -0.0012, -0.0002, -0.0020, -0.0020, -0.0015,
    -0.0038, -0.0021, -0.0010, -0.0016, 0.0006, -0.0011, -0.0028, -0.0019, -0.0016, -0.0023, -0.0042, -0.0014, 0.0019, -0.0010, -0.0022, -0.0018, -0.0008, -0.0015, -0.0049, -0.0022,
    -0.0018, -0.0017, -0.0030, -0.0012, -0.0004, -0.0020, -0.0036, -0.0016, 0.0002, -0.0013, -0.0024, -0.0021, -0.0012, -0.0018, -0.0046, -0.0024, -0.0008, -0.0014, -0.0026, -0.0019,
    -0.0014, -0.0016, 0.0010, -0.0011, -0.0034, -0.0022, -0.0020, -0.0015, -0.0040, -0.0019, -0.0006, -0.0013, -0.0028, -0.0020, 0.0004, -0.0014, -0.0016, -0.0018, -0.0032, -0.0023,
    -0.0010, -0.0016, -0.0024, -0.0012, 0.0012, -0.0017, -0.0038, -0.0021, -0.0018, -0.0014, -0.0004, -0.0019, -0.0030, -0.0015, 0.0008, -0.0011, -0.0022, -0.0020, -0.0036, -0.0017,
    -0.0014, -0.0013, 0.0013, -0.0018, -0.0028, -0.0022, -0.0006, -0.0015, -0.0040, -0.0019, -0.0018, -0.0012, 0.0002, -0.0017, -0.0032, -0.0021, -0.0010, -0.0014, -0.0024, -0.0018]

TRACE_DRUGS_B = [
    0.590, 0.586, 0.575, 0.594, 0.610, 0.588, 0.585, 0.597, 0.600, 0.583, 0.565, 0.592, 0.620, 0.589, 0.580, 0.596, 0.635, 0.587, 0.572, 0.593,
    0.596, 0.584, 0.568, 0.591, 0.615, 0.598, 0.588, 0.586, 0.578, 0.594, 0.625, 0.590, 0.592, 0.582, 0.562, 0.595, 0.606, 0.588, 0.583, 0.597,
    0.598, 0.589, 0.575, 0.593, 0.628, 0.585, 0.570, 0.591, 0.604, 0.598, 0.586, 0.587, 0.560, 0.594, 0.612, 0.590, 0.580, 0.583, 0.594, 0.596,
    0.566, 0.588, 0.618, 0.592, 0.552, 0.586, 0.596, 0.595, 0.630, 0.589, 0.574, 0.597, 0.608, 0.584, 0.584, 0.593, 0.600, 0.590, 0.564, 0.587,
    0.590, 0.596, 0.622, 0.588, 0.570, 0.592, 0.604, 0.585, 0.580, 0.594, 0.632, 0.591, 0.560, 0.587, 0.598, 0.597, 0.612, 0.589, 0.556, 0.593,
    0.650, 0.595, 0.578, 0.586, 0.608, 0.591, 0.588, 0.598, 0.566, 0.584, 0.620, 0.592, 0.594, 0.589, 0.574, 0.596, 0.636, 0.590, 0.584, 0.587,
    0.600, 0.594, 0.649, 0.591, 0.537, 0.585, 0.610, 0.597, 0.582, 0.588, 0.596, 0.593, 0.645, 0.590, 0.570, 0.586, 0.604, 0.595, 0.586, 0.589,
    0.562, 0.592, 0.624, 0.587, 0.592, 0.596, 0.576, 0.584, 0.616, 0.591, 0.588, 0.598, 0.560, 0.588, 0.606, 0.593, 0.580, 0.586, 0.640, 0.594,
    0.596, 0.589, 0.572, 0.592, 0.612, 0.585, 0.586, 0.597, 0.628, 0.590, 0.566, 0.588, 0.600, 0.595, 0.584, 0.586, 0.618, 0.593, 0.574, 0.589,
    0.604, 0.596, 0.560, 0.587, 0.622, 0.591, 0.590, 0.584, 0.576, 0.594, 0.547, 0.588, 0.612, 0.597, 0.584, 0.590, 0.646, 0.593, 0.592, 0.586]
TRACE_DRUGS_O = [
    0.600, 0.588, 0.570, 0.593, 0.615, 0.586, 0.588, 0.596, 0.560, 0.590, 0.605, 0.584, 0.580, 0.594, 0.638, 0.589, 0.592, 0.597, 0.575, 0.587,
    0.610, 0.592, 0.584, 0.598, 0.566, 0.589, 0.622, 0.585, 0.595, 0.593, 0.578, 0.590, 0.606, 0.596, 0.562, 0.587, 0.590, 0.594, 0.615, 0.591,
    0.640, 0.598, 0.582, 0.588, 0.600, 0.593, 0.568, 0.585, 0.612, 0.595, 0.590, 0.589, 0.574, 0.592, 0.625, 0.597, 0.586, 0.590, 0.598, 0.584,
    0.564, 0.593, 0.606, 0.588, 0.580, 0.596, 0.618, 0.591, 0.592, 0.586, 0.572, 0.594, 0.630, 0.589, 0.588, 0.597, 0.602, 0.585, 0.550, 0.590,
    0.596, 0.592, 0.578, 0.587, 0.614, 0.595, 0.586, 0.590, 0.604, 0.598, 0.568, 0.588, 0.620, 0.593, 0.592, 0.586, 0.576, 0.594, 0.608, 0.589,
    0.582, 0.596, 0.600, 0.591, 0.549, 0.584, 0.612, 0.593, 0.588, 0.589, 0.626, 0.597, 0.574, 0.587, 0.596, 0.592, 0.566, 0.590, 0.610, 0.595,
    0.590, 0.586, 0.616, 0.594, 0.578, 0.589, 0.602, 0.597, 0.584, 0.591, 0.547, 0.585, 0.608, 0.593, 0.594, 0.588, 0.570, 0.596, 0.620, 0.590,
    0.586, 0.592, 0.600, 0.587, 0.564, 0.595, 0.612, 0.589, 0.592, 0.598, 0.578, 0.591, 0.630, 0.586, 0.588, 0.594, 0.649, 0.597, 0.572, 0.588,
    0.604, 0.593, 0.580, 0.590, 0.616, 0.585, 0.594, 0.596, 0.568, 0.589, 0.610, 0.592, 0.586, 0.587, 0.622, 0.595, 0.576, 0.590, 0.598, 0.593,
    0.612, 0.588, 0.584, 0.596, 0.570, 0.591, 0.606, 0.586, 0.592, 0.594, 0.578, 0.589, 0.548, 0.584, 0.620, 0.597, 0.588, 0.590, 0.600, 0.592]

N_DRAWS = 1000

KDE_BLUE = [(KDE_INTERCEPT_B_X, KDE_INTERCEPT_B_Y), (KDE_O_B_X, KDE_O_B_Y), (KDE_C_B_X, KDE_C_B_Y),
            (KDE_E_B_X, KDE_E_B_Y), (KDE_A_B_X, KDE_A_B_Y), (KDE_N_B_X, KDE_N_B_Y),
            (KDE_DRUGS_B_X, KDE_DRUGS_B_Y)]
KDE_ORANGE = [(KDE_INTERCEPT_O_X, KDE_INTERCEPT_O_Y), (KDE_O_O_X, KDE_O_O_Y), (KDE_C_O_X, KDE_C_O_Y),
              (KDE_E_O_X, KDE_E_O_Y), (KDE_A_O_X, KDE_A_O_Y), (KDE_N_O_X, KDE_N_O_Y),
              (KDE_DRUGS_O_X, KDE_DRUGS_O_Y)]
TRACE_BLUE = [TRACE_INTERCEPT_B, TRACE_O_B, TRACE_C_B, TRACE_E_B, TRACE_A_B, TRACE_N_B, TRACE_DRUGS_B]
TRACE_ORANGE = [TRACE_INTERCEPT_O, TRACE_O_O, TRACE_C_O, TRACE_E_O, TRACE_A_O, TRACE_N_O, TRACE_DRUGS_O]

KDE_DTICK = [0.5, 0.002, 0.002, 0.002, 0.002, 0.001, 0.02]
KDE_FMT = [".1f", ".3f", ".3f", ".3f", ".3f", ".3f", ".2f"]
TR_DTICK = [1, 0.0025, 0.005, 0.0025, 0.005, 0.0025, 0.05]
TR_FMT = ["d", ".4f", ".3f", ".4f", ".3f", ".4f", ".2f"]

# ---------------- layout geometry (target pixels in the photographed page) ----------------
LEFT_PX = (10, 557)
RIGHT_PX = (655, 1202)
ROW_TOPS = [46, 249, 452, 655, 858, 1061, 1246]
ROW_BOTS = [179, 382, 585, 788, 991, 1194, 1380]
# the page is photographed with a slight rescale/offset; compensate for it
SX, SY, OFF = 0.9867, 0.9967, 4.1


def px_x(p):
    return min(1.0, max(0.0, ((p - OFF) / SX) / W))


def px_y(p):
    return min(1.0, max(0.0, 1 - ((p - OFF) / SY) / H))


def rgba(hexc, a):
    h = hexc.lstrip("#")
    return "rgba(%d,%d,%d,%.2f)" % (int(h[0:2], 16), int(h[2:4], 16), int(h[4:6], 16), a)


fig = go.Figure()
layout = dict(
    width=W, height=H, margin=dict(l=0, r=0, t=0, b=0),
    paper_bgcolor="white", plot_bgcolor="#eeeeee", showlegend=False,
    font=dict(family=FONT, size=13.5, color=TEXT),
)
annotations = []

axis_common = dict(showline=False, zeroline=False, ticks="", gridcolor="white", gridwidth=1,
                   tickfont=dict(family=FONT, size=13.5, color=TEXT))

for r, name in enumerate(PARAMS):
    ka = 2 * r + 1
    ta = 2 * r + 2
    kx = "x" if ka == 1 else "x%d" % ka
    ky = "y" if ka == 1 else "y%d" % ka
    tx = "x%d" % ta
    ty = "y%d" % ta
    ydom = [px_y(ROW_BOTS[r]), px_y(ROW_TOPS[r])]

    # ---- KDE panel ----
    bx, by = KDE_BLUE[r]
    ox, oy = KDE_ORANGE[r]
    allx = np.array(bx + ox)
    ymax = max(max(by), max(oy))
    xmin, xmax = allx.min(), allx.max()
    xpad = 0.05 * (xmax - xmin)
    ybot = -0.012 * ymax
    fig.add_trace(go.Scatter(x=bx, y=by, mode="lines", xaxis=kx, yaxis=ky,
                             line=dict(color=BLUE, width=1.8, shape="spline", smoothing=0.8),
                             hoverinfo="skip"))
    fig.add_trace(go.Scatter(x=ox, y=oy, mode="lines", xaxis=kx, yaxis=ky,
                             line=dict(color=ORANGE, width=1.8, shape="spline", smoothing=0.8),
                             hoverinfo="skip"))
    d = DIVERGENCES[r]
    fig.add_trace(go.Scatter(x=[d, d], y=[ybot, 0.10 * ymax], mode="lines", xaxis=kx, yaxis=ky,
                             line=dict(color="#8e8e8e", width=2), hoverinfo="skip"))
    layout["xaxis" if ka == 1 else "xaxis%d" % ka] = dict(
        axis_common, domain=[px_x(LEFT_PX[0]), px_x(LEFT_PX[1])], anchor=ky,
        range=[xmin - xpad, xmax + xpad], dtick=KDE_DTICK[r], tick0=0,
        tickformat=KDE_FMT[r], showgrid=True)
    layout["yaxis" if ka == 1 else "yaxis%d" % ka] = dict(
        axis_common, domain=ydom, anchor=kx, range=[ybot, 1.045 * ymax],
        showticklabels=False, showgrid=False)

    # ---- Trace panel ----
    tb = TRACE_BLUE[r]
    to = TRACE_ORANGE[r]
    draws_b = np.linspace(0, N_DRAWS - 1, len(tb))
    draws_o = np.linspace(0, N_DRAWS - 1, len(to))
    fig.add_trace(go.Scatter(x=draws_b, y=tb, mode="lines", xaxis=tx, yaxis=ty,
                             line=dict(color=rgba(BLUE, 0.38), width=1.9), hoverinfo="skip"))
    fig.add_trace(go.Scatter(x=draws_o, y=to, mode="lines", xaxis=tx, yaxis=ty,
                             line=dict(color=rgba(ORANGE, 0.38), width=1.9), hoverinfo="skip"))
    allt = np.array(tb + to)
    tmin, tmax = allt.min(), allt.max()
    tpad = 0.05 * (tmax - tmin)
    layout["xaxis%d" % ta] = dict(
        axis_common, domain=[px_x(RIGHT_PX[0]), px_x(RIGHT_PX[1])], anchor=ty,
        range=[0, N_DRAWS - 1], dtick=200, tick0=0, showgrid=True)
    layout["yaxis%d" % ta] = dict(
        axis_common, domain=ydom, anchor=tx, range=[tmin - tpad, tmax + tpad],
        dtick=TR_DTICK[r], tick0=0, tickformat=TR_FMT[r], showgrid=True)

    # ---- titles ----
    for (x0, x1) in (LEFT_PX, RIGHT_PX):
        cx = px_x((x0 + x1) / 2)
        if SUBTITLES[r]:
            annotations.append(dict(text=name, x=cx, y=px_y(ROW_TOPS[r] - 29), xref="paper", yref="paper",
                                    xanchor="center", yanchor="middle", showarrow=False,
                                    font=dict(family=FONT, size=15.5, color=TEXT)))
            annotations.append(dict(text=SUBTITLES[r], x=cx, y=px_y(ROW_TOPS[r] - 12), xref="paper",
                                    yref="paper", xanchor="center", yanchor="middle", showarrow=False,
                                    font=dict(family=FONT, size=15.5, color=TEXT)))
        else:
            annotations.append(dict(text=name, x=cx, y=px_y(ROW_TOPS[r] - 13), xref="paper", yref="paper",
                                    xanchor="center", yanchor="middle", showarrow=False,
                                    font=dict(family=FONT, size=15.5, color=TEXT)))

layout["annotations"] = annotations
fig.update_layout(**layout)
fig.write_html("out.html", config={"displayModeBar": False},
               post_script="document.body.style.margin='0';document.body.style.overflow='hidden';")
